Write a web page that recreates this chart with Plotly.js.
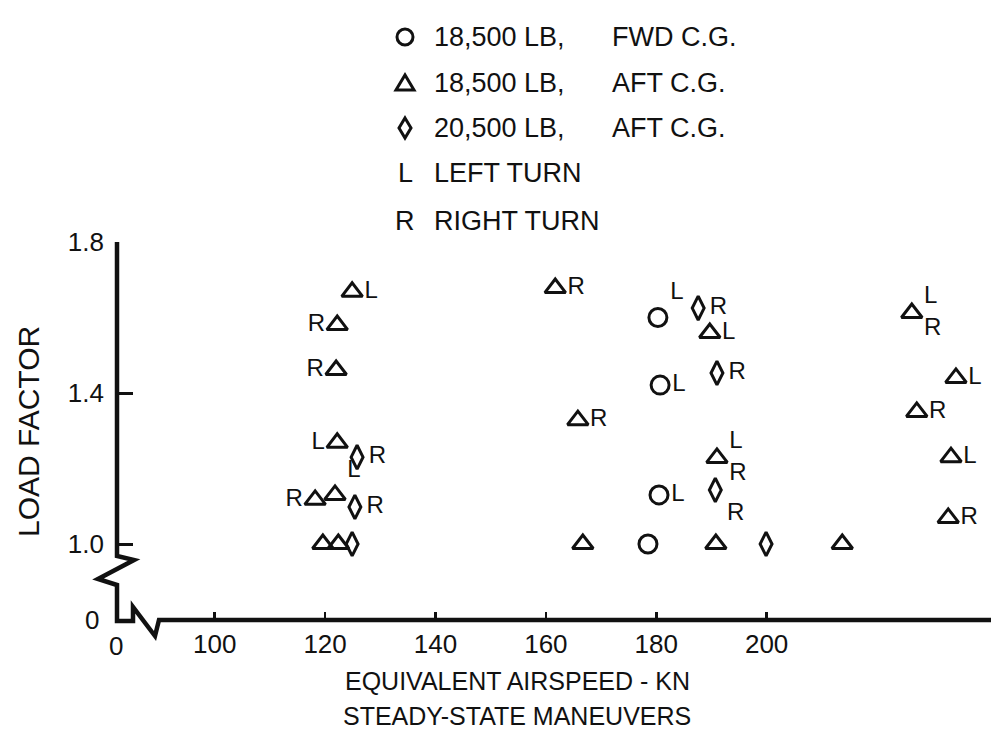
<!DOCTYPE html>
<html><head><meta charset="utf-8">
<script src="https://cdn.plot.ly/plotly-3.0.1.min.js"></script>
<style>html,body{margin:0;padding:0;background:#fff}</style>
</head><body><div id="chart" style="width:991px;height:738px"></div>
<script>
// ---- data ----
const xTickVals = [100, 120, 140, 160, 180, 200];
const xTickText = ['100', '120', '140', '160', '180', '200'];
const yTickVals = [1.0, 1.4, 1.8];
const yTickText = ['1.0', '1.4', '1.8'];

// 18,500 LB, FWD C.G. (circles)
const fwdSpeed = [180.3, 180.7, 180.5, 178.5];
const fwdLoad  = [1.600, 1.421, 1.130, 1.000];
const fwdTurn  = ['L', 'L', 'L', ''];
const fwdPos   = ['top right', 'middle right', 'middle right', 'middle right'];

// 18,500 LB, AFT C.G. (triangles)
const aftSpeed = [124.9, 122.2, 122.0, 122.2, 118.2, 121.8, 119.6, 122.4,
                  161.7, 189.7, 165.8, 191.0, 166.7, 190.8, 213.7,
                  226.3, 234.3, 227.2, 233.4, 232.9];
const aftLoad  = [1.668, 1.580, 1.461, 1.268, 1.117, 1.130, 1.000, 1.000,
                  1.678, 1.559, 1.328, 1.228, 1.000, 1.000, 1.000,
                  1.612, 1.440, 1.350, 1.230, 1.069];
const aftTurn  = ['L', 'R', 'R', 'L', 'R', 'L', '', '',
                  'R', 'L', 'R', 'L<br>R', '', '', '',
                  'L<br>R', 'L', 'R', 'L', 'R'];
const aftPos   = ['middle right', 'middle left', 'middle left', 'middle left', 'middle left', 'top right', 'middle right', 'middle right',
                  'middle right', 'middle right', 'middle right', 'middle right', 'middle right', 'middle right', 'middle right',
                  'middle right', 'middle right', 'middle right', 'middle right', 'middle right'];

// 20,500 LB, AFT C.G. (diamonds)
const heavySpeed = [125.8, 125.4, 124.9, 187.6, 191.0, 190.7, 199.9];
const heavyLoad  = [1.230, 1.098, 1.000, 1.625, 1.453, 1.143, 1.000];
const heavyTurn  = ['R', 'R', '', 'R', 'R', 'R', ''];
const heavyPos   = ['middle right', 'middle right', 'middle right', 'middle right', 'middle right', 'bottom right', 'middle right'];

const legendLabels = ['18,500 LB,', '18,500 LB,', '20,500 LB,', 'LEFT TURN', 'RIGHT TURN'];
const legendLabels2 = ['FWD C.G.', 'AFT C.G.', 'AFT C.G.', '', ''];

// ---- layout helpers ----
const W = 991, H = 738, ML = 117, MR = 0, MT = 242, MB = 118;
const PW = W - ML - MR, PH = H - MT - MB;
const px = x => (x - ML) / PW;
const py = y => (H - MB - y) / PH;
const path = pts => pts.map((p, i) => (i ? 'L' : 'M') + px(p[0]).toFixed(5) + ',' + py(p[1]).toFixed(5)).join(' ');

const FONT = 'Liberation Sans, Arial, sans-serif';
const black = '#111';

function trace(x, y, txt, pos, symbol, size, name) {
  return {
    type: 'scatter', mode: 'markers+text', x: x, y: y, text: txt, textposition: pos,
    name: name, showlegend: false, cliponaxis: false, hoverinfo: 'x+y',
    marker: {symbol: symbol, size: size, color: black, line: {color: black, width: 3}},
    textfont: {family: FONT, size: 24, color: black}
  };
}

const data = [
  trace(fwdSpeed, fwdLoad, fwdTurn, fwdPos, 'circle-open', 18, '18,500 LB, FWD C.G.'),
  trace(aftSpeed, aftLoad, aftTurn, aftPos, 'triangle-up-open', 18, '18,500 LB, AFT C.G.'),
  trace(heavySpeed, heavyLoad, heavyTurn, heavyPos, 'diamond-tall-open', 17, '20,500 LB, AFT C.G.')
];

const rowsY = [37, 83, 128, 173, 221];
const symX = 405, txtX = 432, txt2X = 610;

const shapes = [
  // y axis with break, and x axis with break
  {type: 'path', xref: 'paper', yref: 'paper', line: {color: black, width: 4.5},
   path: path([[117, 242], [117, 556], [134, 560], [98, 579], [117, 585], [117, 621], [133, 621], [133, 607], [155, 636], [159, 620], [991, 620]])},
  // legend symbols
  {type: 'circle', xref: 'paper', yref: 'paper', line: {color: black, width: 3},
   x0: px(symX - 8), x1: px(symX + 8), y0: py(rowsY[0] + 8), y1: py(rowsY[0] - 8)},
  {type: 'path', xref: 'paper', yref: 'paper', line: {color: black, width: 3},
   path: path([[symX - 9, rowsY[1] + 7], [symX + 9, rowsY[1] + 7], [symX, rowsY[1] - 8]]) + ' Z'},
  {type: 'path', xref: 'paper', yref: 'paper', line: {color: black, width: 3},
   path: path([[symX, rowsY[2] - 10], [symX + 6, rowsY[2]], [symX, rowsY[2] + 10], [symX - 6, rowsY[2]]]) + ' Z'}
];

const annotations = [];
legendLabels.forEach((t, i) => {
  annotations.push({xref: 'paper', yref: 'paper', x: px(txtX), y: py(rowsY[i]), text: t, showarrow: false,
    xanchor: 'left', yanchor: 'middle', font: {family: FONT, size: 27, color: black}});
  if (legendLabels2[i]) annotations.push({xref: 'paper', yref: 'paper', x: px(txt2X), y: py(rowsY[i]), text: legendLabels2[i], showarrow: false,
    xanchor: 'left', yanchor: 'middle', font: {family: FONT, size: 27, color: black}});
});
annotations.push({xref: 'paper', yref: 'paper', x: px(symX), y: py(rowsY[3]), text: 'L', showarrow: false, xanchor: 'center', yanchor: 'middle', font: {family: FONT, size: 27, color: black}});
annotations.push({xref: 'paper', yref: 'paper', x: px(symX), y: py(rowsY[4]), text: 'R', showarrow: false, xanchor: 'center', yanchor: 'middle', font: {family: FONT, size: 27, color: black}});
// broken-axis zero labels
annotations.push({xref: 'paper', yref: 'paper', x: px(92), y: py(620), text: '0', showarrow: false, xanchor: 'center', yanchor: 'middle', font: {family: FONT, size: 26, color: black}});
annotations.push({xref: 'paper', yref: 'paper', x: px(116), y: py(646), text: '0', showarrow: false, xanchor: 'center', yanchor: 'middle', font: {family: FONT, size: 26, color: black}});
// axis titles
annotations.push({xref: 'paper', yref: 'paper', x: px(28), y: py(432), text: 'LOAD FACTOR', showarrow: false, textangle: -90, xanchor: 'center', yanchor: 'middle', font: {family: FONT, size: 30, color: black}});
annotations.push({xref: 'paper', yref: 'paper', x: px(517), y: py(681), text: 'EQUIVALENT AIRSPEED - KN', showarrow: false, xanchor: 'center', yanchor: 'middle', font: {family: FONT, size: 25, color: black}});
annotations.push({xref: 'paper', yref: 'paper', x: px(517), y: py(716), text: 'STEADY-STATE MANEUVERS', showarrow: false, xanchor: 'center', yanchor: 'middle', font: {family: FONT, size: 25, color: black}});

const layout = {
  width: W, height: H,
  margin: {l: ML, r: MR, t: MT, b: MB, pad: 0},
  paper_bgcolor: '#fff', plot_bgcolor: '#fff',
  showlegend: false,
  font: {family: FONT, color: black},
  xaxis: {range: [82.3, 240.65], tickvals: xTickVals, ticktext: xTickText, ticks: 'inside', ticklen: 8, tickwidth: 2.5, tickcolor: black,
          showline: false, showgrid: false, zeroline: false, tickfont: {family: FONT, size: 26, color: black}, ticklabelstandoff: 6, fixedrange: true},
  yaxis: {range: [0.7987, 1.8], tickvals: yTickVals, ticktext: yTickText, ticks: 'inside', ticklen: 16, tickwidth: 3, tickcolor: black,
          showline: false, showgrid: false, zeroline: false, tickfont: {family: FONT, size: 26, color: black}, ticklabelstandoff: 12, fixedrange: true},
  shapes: shapes,
  annotations: annotations
};

Plotly.newPlot('chart', data, layout, {staticPlot: true, displayModeBar: false});
</script>
</body></html>
